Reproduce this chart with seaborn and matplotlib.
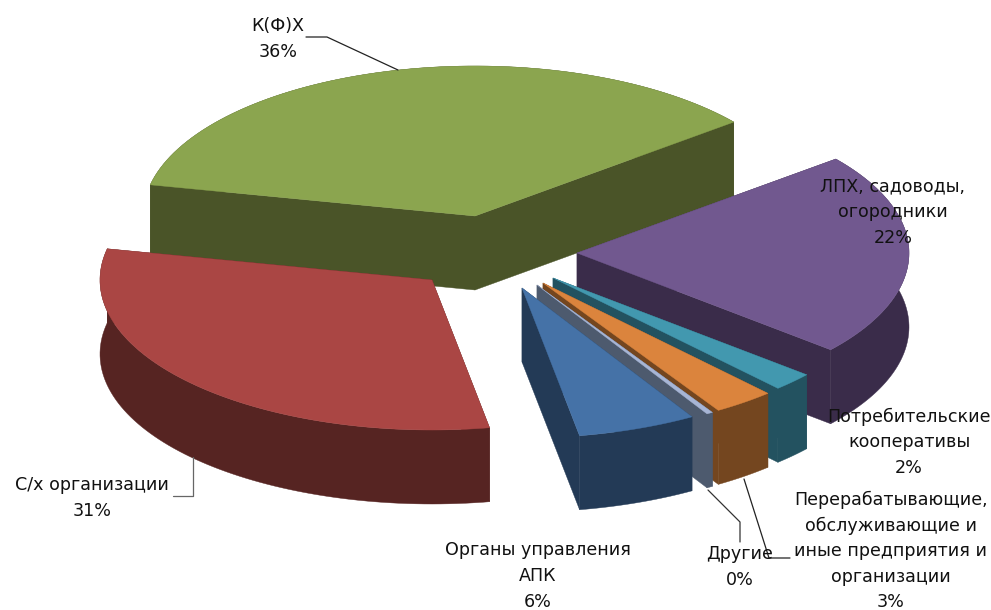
import numpy as np
import seaborn as sns
import matplotlib.pyplot as plt

# Data
labels = [
    "К(Ф)Х",
    "ЛПХ, садоводы,\nогородники",
    "Потребительские\nкооперативы",
    "Перерабатывающие,\nобслуживающие и\nиные предприятия и\nорганизации",
    "Другие",
    "Органы управления\nАПК",
    "С/х организации",
]
shares = [36, 22, 2, 3, 0.3, 5.8, 31.2]

# Pie look
top_colors = ["#8BA54F", "#71588F", "#4298AF", "#DB843D", "#A7B5D5", "#4572A7", "#AA4644"]
side_colors = ["#4A5428", "#3A2C4A", "#235260", "#74461F", "#4D5A6E", "#233A56", "#562422"]
apex_x = [475, 577, 553, 543, 537, 522, 432]
apex_y = [216, 253, 278, 283, 285, 288, 280]
label_x = [278, 893, 909, 891, 740, 538, 92]
label_y = [39, 212, 442, 551, 567, 576, 498]
RADIUS_X = 332
RADIUS_Y = 150
DEPTH = 74
START_ANGLE = 168

# Leader lines, in figure pixels
leaders = [
    ([306, 327, 398], [37, 37, 70], "#222222"),
    ([173, 193, 193], [496, 496, 457], "#666666"),
    ([708, 740, 740], [490, 522, 542], "#333333"),
    ([744, 769, 790], [479, 558, 558], "#222222"),
]


def draw_slice(ax, share, total, start, apex, top_color, side_color):
    span = share / total * 360
    theta = np.radians(np.linspace(start, start - span, 80))
    cx, cy = apex
    x = cx + RADIUS_X * np.cos(theta)
    y = cy - RADIUS_Y * np.sin(theta)

    # radial walls
    for i in [0, -1]:
        ax.fill(
            [cx, x[i], x[i], cx],
            [cy, y[i], y[i] + DEPTH, cy + DEPTH],
            color=side_color,
            lw=0.3,
        )
    # outer rim
    ax.fill(
        np.r_[x, x[::-1]],
        np.r_[y, y[::-1] + DEPTH],
        color=side_color,
        lw=0.3,
    )
    # top face
    ax.fill(np.r_[cx, x], np.r_[cy, y], color=top_color, lw=0.3)
    return start - span


def main():
    sns.set_theme(style="white")
    plt.rcParams["font.family"] = ["DejaVu Sans"]

    fig = plt.figure(figsize=(9.91, 6.10), dpi=100)
    ax = fig.add_axes([0, 0, 1, 1])
    ax.set_xlim(0, 991)
    ax.set_ylim(610, 0)
    ax.axis("off")

    total = sum(shares)
    angle = START_ANGLE
    for i, share in enumerate(shares):
        angle = draw_slice(
            ax, share, total, angle, (apex_x[i], apex_y[i]), top_colors[i], side_colors[i]
        )

    for xs, ys, color in leaders:
        ax.plot(xs, ys, color=color, lw=0.9)

    for i, label in enumerate(labels):
        ax.text(
            label_x[i],
            label_y[i],
            f"{label}\n{round(shares[i])}%",
            ha="center",
            va="center",
            multialignment="center",
            fontsize=12.6,
            linespacing=1.54,
            color="#111111",
        )

    sns.despine(ax=ax, left=True, bottom=True)
    fig.savefig("out.png", dpi=100)
    plt.close(fig)


if __name__ == "__main__":
    main()
